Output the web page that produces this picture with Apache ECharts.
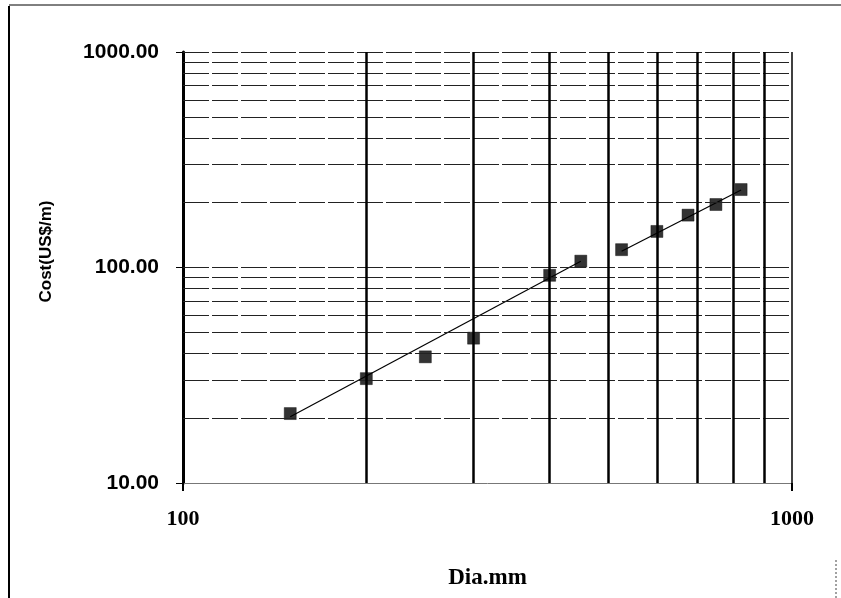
<!DOCTYPE html>
<html>
<head>
<meta charset="utf-8">
<script src="https://cdn.jsdelivr.net/npm/echarts@6/dist/echarts.min.js"></script>
<style>
  html, body { margin: 0; padding: 0; background: #fff; }
  #chart { width: 841px; height: 598px; }
</style>
</head>
<body>
<div id="chart"></div>
<script>
// Pipe diameter (mm) against cost per metre (US$/m)
const diameters = [150, 200, 250, 300, 400, 450, 525, 600, 675, 750, 825];
const costs = [21, 30.5, 38.5, 47, 92, 107, 121, 147, 175, 196, 230];

// Two fitted trend segments (smaller and larger pipe sizes)
const trendSmallDia = [150, 450];
const trendSmallCost = [20.3, 107];
const trendLargeDia = [525, 825];
const trendLargeCost = [119, 229];

// Log-scale grid positions and labels
const xGridValues = [200, 300, 400, 500, 600, 700, 800, 900, 1000];
const yGridValues = [20, 30, 40, 50, 60, 70, 80, 90, 100, 200, 300, 400, 500, 600, 700, 800, 900, 1000];
const xTickLabels = ['100', '1000'];
const yTickLabels = ['10.00', '100.00', '1000.00'];

const pairs = (xs, ys) => xs.map((x, i) => [x, ys[i]]);

const chart = echarts.init(document.getElementById('chart'), null, { renderer: 'canvas' });

const option = {
  backgroundColor: '#ffffff',
  animation: false,
  grid: { left: 183, right: 49, top: 52, bottom: 115, containLabel: false },
  xAxis: {
    type: 'log',
    logBase: 10,
    min: 100,
    max: 1000,
    name: 'Dia.mm',
    nameLocation: 'middle',
    nameGap: 84,
    nameTextStyle: { fontFamily: 'Liberation Serif', fontWeight: 'bold', fontSize: 23, color: '#000' },
    axisLine: { show: true, lineStyle: { color: '#777', width: 1 } },
    axisTick: { show: true, inside: false, length: 8, lineStyle: { color: '#000', width: 2 } },
    axisLabel: {
      margin: 25,
      fontFamily: 'Liberation Serif', fontWeight: 'bold', fontSize: 22, color: '#000',
      formatter: v => {
        const s = String(Math.round(v));
        return xTickLabels.includes(s) ? s : '';
      }
    },
    splitLine: { show: false }
  },
  yAxis: {
    type: 'log',
    logBase: 10,
    min: 10,
    max: 1000,
    name: 'Cost(US$/m)',
    nameLocation: 'middle',
    nameGap: 128,
    nameRotate: 90,
    nameTextStyle: {
      fontFamily: 'Liberation Sans', fontWeight: 'bold', fontSize: 17, color: '#000',
      padding: [0, 0, 0, 32]
    },
    axisLine: { show: true, lineStyle: { color: '#000', width: 3 } },
    axisTick: { show: true, inside: false, length: 7, lineStyle: { color: '#000', width: 1 } },
    axisLabel: {
      margin: 24,
      fontFamily: 'Liberation Sans', fontWeight: 'bold', fontSize: 21, color: '#000',
      formatter: v => {
        const s = Number(v).toFixed(2);
        return yTickLabels.includes(s) ? s : '';
      }
    },
    splitLine: { show: false }
  },
  series: [
    {
      // grid lines drawn through the axis scales
      type: 'line',
      data: [],
      silent: true,
      markLine: {
        silent: true,
        symbol: ['none', 'none'],
        label: { show: false },
        animation: false,
        data: yGridValues.map(v => ({
          yAxis: v,
          lineStyle: { color: '#222', width: 1, type: [26, 3] }
        })).concat(xGridValues.map(v => ({
          xAxis: v,
          lineStyle: { color: '#000', width: v === 1000 ? 1.5 : 2.5, type: 'solid' }
        })))
      }
    },
    {
      type: 'line',
      data: pairs(trendSmallDia, trendSmallCost),
      symbol: 'none',
      lineStyle: { color: '#000', width: 1.2 },
      z: 3
    },
    {
      type: 'line',
      data: pairs(trendLargeDia, trendLargeCost),
      symbol: 'none',
      lineStyle: { color: '#000', width: 1.2 },
      z: 3
    },
    {
      type: 'scatter',
      data: pairs(diameters, costs),
      symbol: 'rect',
      symbolSize: 12,
      itemStyle: { color: '#000', borderColor: '#000', borderWidth: 0.5 },
      z: 4
    }
  ],
  graphic: [
    { type: 'line', shape: { x1: 9, y1: 6, x2: 9, y2: 598 }, style: { stroke: '#000', lineWidth: 2 } },
    { type: 'line', shape: { x1: 9, y1: 5, x2: 841, y2: 5 }, style: { stroke: '#000', lineWidth: 1 } },
    { type: 'line', shape: { x1: 836, y1: 560, x2: 836, y2: 598 }, style: { stroke: '#444', lineWidth: 1, lineDash: [2, 2] } }
  ]
};

chart.setOption(option);
</script>
</body>
</html>
